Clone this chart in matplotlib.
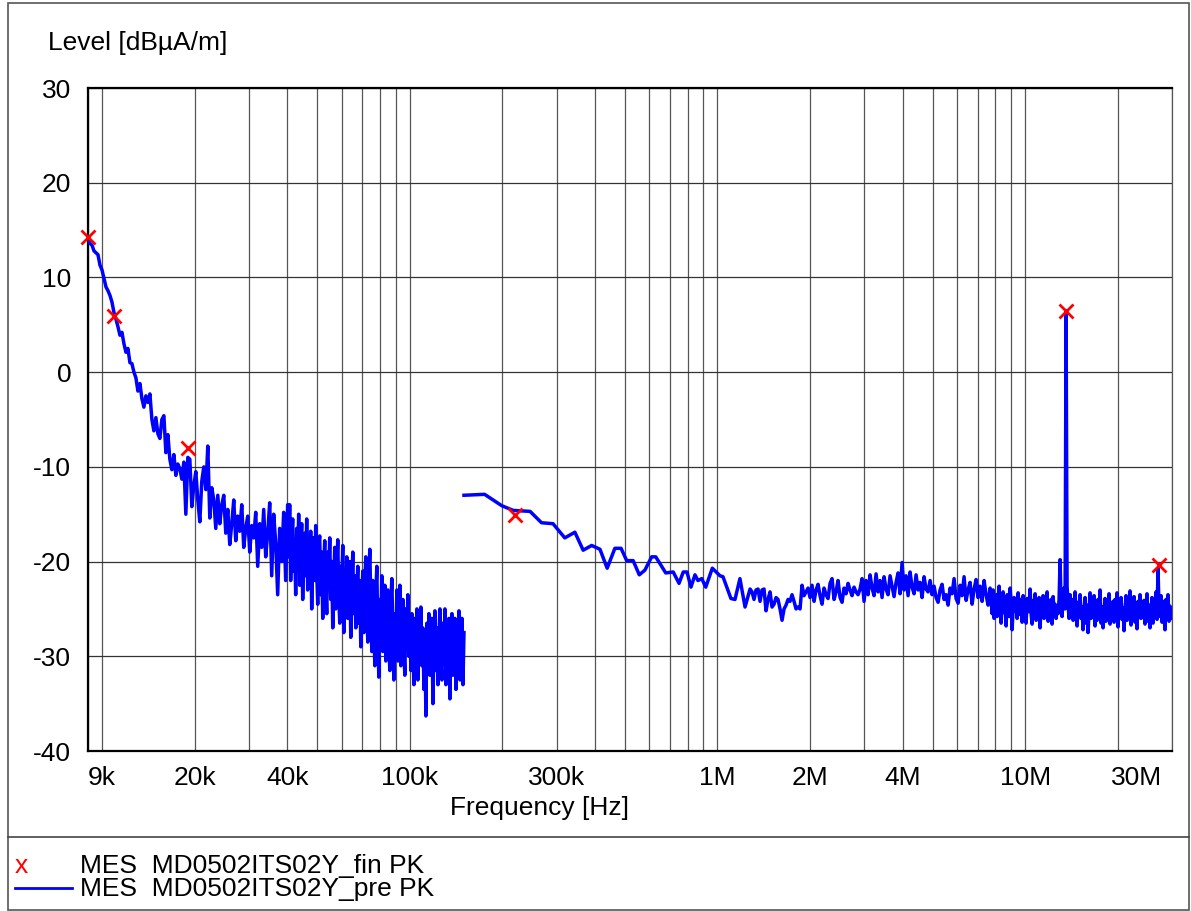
import numpy as np
import matplotlib
matplotlib.use('Agg')
import matplotlib.pyplot as plt
from matplotlib.ticker import FixedLocator, NullFormatter
from matplotlib.transforms import ScaledTranslation
from matplotlib.lines import Line2D
from matplotlib.patches import Rectangle

plt.rcParams['font.family'] = ['Liberation Sans', 'DejaVu Sans']

# ---------------- data ----------------
# pre-scan PK trace, 9 kHz .. 40.1 kHz (dBuA/m), evenly spaced in log-frequency
seg1a_f_start, seg1a_f_stop = 9e3, 40.1e3
seg1a_levels = [
    14.1, 13.6, 13.4, 12.8, 12.6, 12.4, 11.3, 10.8, 9.9, 9.0,
    8.6, 8.1, 7.4, 6.3, 5.6, 4.8, 3.9, 4.2, 3.0, 2.1,
    2.5, 1.0, 0.9, 0.0, -0.6, -2.0, -1.2, -2.8, -3.7, -2.5,
    -3.2, -2.3, -5.0, -6.2, -4.8, -6.5, -7.0, -5.0, -4.6, -8.5,
    -6.6, -9.2, -10.3, -8.7, -10.9, -9.7, -10.2, -11.3, -9.5, -15.0,
    -9.0, -9.2, -14.2, -12.0, -10.5, -13.5, -15.8, -11.5, -10.0, -12.4,
    -7.8, -15.4, -12.2, -13.5, -16.5, -13.0, -16.0, -14.0, -13.0, -17.0,
    -14.5, -18.2, -16.0, -13.5, -17.8, -15.2, -16.8, -14.0, -18.5, -16.5,
    -15.2, -19.0, -16.2, -17.5, -14.8, -20.5, -16.0, -18.5, -14.5, -19.5,
    -17.0, -13.8, -21.5, -15.0, -18.0, -23.5, -16.5, -20.0, -14.8, -22.0,
    -14.0,
]
# pre-scan PK trace, 40.4 kHz .. 150 kHz, evenly spaced in log-frequency
seg1b_f_start, seg1b_f_stop = 40.4e3, 150e3
seg1b_levels = [
    -19.5, -14.0, -22.0, -17.5, -15.5, -21.0, -18.0, -23.5, -16.5, -20.0,
    -15.0, -22.5, -18.5, -16.0, -24.0, -19.0, -17.0, -21.5, -15.5, -23.0,
    -18.0, -20.5, -16.8, -25.0, -19.5, -17.5, -22.0, -16.2, -21.0, -24.5,
    -18.0, -17.3,
    -23.5, -19.0, -26.0, -20.5, -17.8, -22.5, -25.5, -19.0, -21.5, -17.5,
    -24.0, -20.0, -27.0, -22.0, -18.5, -25.0, -21.0, -17.7, -23.5, -26.5,
    -20.5, -22.5, -18.3, -27.5, -21.0, -24.0, -19.5, -26.0, -22.5, -20.0,
    -28.0, -23.0, -19.0, -25.5, -21.5, -27.0, -23.5, -20.5, -26.5, -22.0,
    -29.0, -24.0, -21.0, -27.5, -22.5, -19.5, -25.0, -28.5, -21.5, -18.7,
    -24.5, -29.5, -22.0, -26.0, -31.0, -23.5, -20.5, -28.0, -32.2, -24.0,
    -27.0, -21.5, -29.5, -25.0, -22.5, -30.5, -26.5, -23.0, -28.5, -31.5,
    -24.5, -21.8, -27.5, -32.5, -25.5, -29.0, -23.0, -30.5, -26.0, -22.5,
    -31.0, -27.0, -24.0, -29.5, -32.0, -25.0, -28.0, -23.5, -30.0, -26.5,
    -31.5, -25.5, -28.5, -33.0, -26.0, -30.0, -25.0, -32.5, -27.5, -29.5,
    -24.8, -31.0, -27.0, -33.5, -28.0, -36.3, -26.5, -30.5, -25.5, -32.0,
    -28.5, -26.0, -35.0, -29.0, -25.2, -31.5, -27.0, -33.0, -28.0, -25.0,
    -30.5, -32.5, -26.5, -29.5, -25.0, -33.0, -27.5, -31.0, -26.0, -34.5,
    -28.5, -25.5, -32.0, -29.0, -26.0, -33.5, -27.0, -30.5, -25.2, -32.5,
    -28.0, -26.0, -33.0, -27.5,
]

# pre-scan PK trace, 150 kHz .. 1.28 MHz (explicit points)
seg2_freqs_khz = [
    150, 175, 199, 217, 246, 268, 292, 319, 344, 366,
    390, 415, 438, 464, 486, 507, 532, 557, 581, 611,
    630, 679, 718, 750, 774, 796, 820, 845, 864, 889,
    916, 962, 1019, 1042, 1106, 1140, 1183, 1229, 1276,
]
seg2_levels = [
    -13.0, -12.9, -14.1, -14.6, -14.7, -15.9, -16.0, -17.5, -16.9, -18.8,
    -18.3, -18.7, -20.7, -18.6, -18.6, -19.9, -19.9, -21.4, -20.9, -19.5,
    -19.5, -21.2, -21.1, -22.3, -21.1, -21.1, -22.7, -21.4, -22.0, -21.8,
    -22.7, -20.7, -21.5, -21.6, -23.9, -24.0, -21.8, -24.8, -22.9,
]

# pre-scan PK trace, 1.295 MHz .. 7.69 MHz, evenly spaced in log-frequency
seg3a_f_start, seg3a_f_stop = 1.295e6, 7.69e6
seg3a_levels = [
    -23.2, -24.0, -23.0, -22.9, -24.2, -23.0, -22.9, -25.2, -24.0, -23.2,
    -24.8, -24.5, -23.8, -24.0, -25.0, -26.2, -25.0, -24.6, -24.0, -24.2,
    -23.5, -24.2, -25.0, -24.8, -25.0, -22.5, -23.6, -23.2, -22.8, -23.8,
    -22.5, -24.2, -23.0, -22.4, -23.6, -24.5, -22.8, -23.5, -23.9, -22.3,
    -21.8, -24.0, -23.2, -22.0, -23.8, -24.3, -22.8, -23.4, -22.3, -23.0,
    -23.6, -22.7, -23.2, -23.5, -22.9, -21.8, -24.2, -22.0, -23.5, -21.4,
    -22.8, -23.6, -21.3, -23.2, -22.0, -23.8, -21.6, -22.9, -23.5, -21.5,
    -22.6, -23.7, -22.2, -21.2, -23.4, -20.1, -23.0, -21.5, -23.6, -21.1,
    -22.7, -23.4, -21.4, -23.0, -22.2, -23.8, -21.6, -22.9, -23.2, -22.0,
    -23.5, -22.6, -23.8, -24.3, -23.0, -22.4, -24.0, -23.5, -24.6, -22.8,
    -23.4, -21.8, -23.9, -24.4, -22.5, -23.6, -21.6, -24.1, -23.0, -22.2,
    -24.5, -22.9, -21.9, -23.8, -22.6, -24.2, -22.0, -23.5, -24.6, -22.8,
]
# pre-scan PK trace, 7.75 MHz .. 30 MHz, evenly spaced in log-frequency
seg3b_f_start, seg3b_f_stop = 7.75e6, 30e6
seg3b_levels = [
    -24.0, -25.5, -23.0, -26.0, -24.2, -23.5, -25.8, -24.0, -22.6, -25.0,
    -26.5, -24.0, -23.2, -25.4, -24.6, -26.8, -23.5, -24.5, -25.8, -22.8,
    -24.2, -27.2, -25.0, -23.8, -25.2, -24.0, -26.0, -23.3, -24.8, -25.6,
    -24.0, -26.4, -23.6, -25.0, -24.2, -26.5, -23.9, -25.3, -24.6, -22.9,
    -25.5, -26.6, -24.1, -25.0, -23.4, -26.2, -24.8, -25.6, -23.8, -27.0,
    -24.5, -25.2, -23.6, -26.0, -24.4, -25.4, -23.2, -26.3, -24.7, -25.8,
    -24.0, -26.6, -23.7, -25.1, -24.5, -26.0, -24.8,
    -25.5, -24.0, -19.8, -24.5, -25.8, -23.5, -22.8, -25.0, 6.5, -22.6,
    -24.5, -26.0, -23.5, -25.2,
    -24.0, -26.2, -24.8, -23.2, -25.6, -26.8, -24.3, -25.5, -23.5, -26.0,
    -24.8, -27.2, -25.0, -23.8, -26.5, -24.6, -27.5, -25.2, -23.3, -26.0,
    -24.4, -25.8, -23.6, -26.8, -24.9, -26.2, -24.0, -25.6, -23.0, -26.5,
    -24.8, -27.0, -25.2, -23.9, -26.3, -24.5, -25.8, -23.4, -26.6, -24.7,
    -25.9, -24.2, -26.4, -24.0, -25.5, -23.3, -26.9, -24.6, -25.4, -23.8,
    -26.1, -24.9, -27.3, -25.0, -23.6, -26.2, -24.4, -25.7, -23.1, -26.7,
    -24.8, -25.3, -23.7, -26.4, -25.0, -27.1, -24.2, -25.6, -23.5, -26.0,
    -24.7, -25.9, -24.1, -26.6, -25.2, -23.4, -26.3, -24.6, -27.0, -25.1,
    -23.8, -26.5, -24.3, -25.6, -23.2, -26.1, -20.7, -24.9, -25.8, -23.6,
    -26.4, -24.2, -25.5, -27.2, -24.0, -25.9, -23.5, -26.3, -24.7, -25.4,
    -26.0,
]

# final measurement PK points
fin_freqs = [9.0e3, 10.9e3, 19.0e3, 219e3, 13.56e6, 27.12e6]
fin_levels = [14.3, 5.9, -8.0, -15.1, 6.5, -20.4]

xtick_vals = [9e3, 20e3, 40e3, 100e3, 300e3, 1e6, 2e6, 4e6, 10e6, 30e6]
xtick_labels = ['9k', '20k', '40k', '100k', '300k', '1M', '2M', '4M', '10M', '30M']
ytick_vals = [30, 20, 10, 0, -10, -20, -30, -40]

legend_labels = ['MES  MD0502ITS02Y_fin PK', 'MES  MD0502ITS02Y_pre PK']

# ---------------- figure ----------------
W, H = 1191, 911
fig = plt.figure(figsize=(W / 100, H / 100), dpi=100)
ax = fig.add_axes([88 / W, 1 - 751 / H, (1172 - 88) / W, (751 - 88) / H])

f1 = np.concatenate([np.geomspace(seg1a_f_start, seg1a_f_stop, len(seg1a_levels)),
                     np.geomspace(seg1b_f_start, seg1b_f_stop, len(seg1b_levels))])
l1 = np.concatenate([seg1a_levels, seg1b_levels])
f23 = np.concatenate([np.array(seg2_freqs_khz) * 1e3,
                      np.geomspace(seg3a_f_start, seg3a_f_stop, len(seg3a_levels)),
                      np.geomspace(seg3b_f_start, seg3b_f_stop, len(seg3b_levels))])
l23 = np.concatenate([seg2_levels, seg3a_levels, seg3b_levels])

blue = '#0000FF'
ax.plot(f1, l1, color=blue, lw=2.5, zorder=3)
ax.plot(f23, l23, color=blue, lw=2.5, zorder=3)
ax.plot(fin_freqs, fin_levels, linestyle='none', marker='x', color='#FF0000',
        markersize=10, markeredgewidth=2.0, zorder=4, clip_on=False)

ax.set_xscale('log')
ax.set_xlim(9e3, 30e6)
ax.set_ylim(-40, 30)

grid_pos = [m * d for d in (1e3, 1e4, 1e5, 1e6, 1e7) for m in range(1, 10)
            if 9e3 < m * d < 30e6]
ax.xaxis.set_major_locator(FixedLocator(xtick_vals))
ax.set_xticklabels(xtick_labels)
ax.xaxis.set_minor_locator(FixedLocator(grid_pos))
ax.xaxis.set_minor_formatter(NullFormatter())
ax.set_yticks(ytick_vals)
ax.set_yticklabels([str(v) for v in ytick_vals])

ax.grid(which='minor', axis='x', color='#555555', lw=0.9, zorder=1)
ax.grid(which='major', axis='x', color='#555555', lw=0.9, zorder=1)
ax.grid(which='major', axis='y', color='#333333', lw=0.9, zorder=1)
ax.set_axisbelow(True)

ax.tick_params(axis='both', which='both', length=0, labelsize=19, colors='black')
ax.tick_params(axis='x', pad=11)
ax.tick_params(axis='y', pad=12)

labels = ax.get_xticklabels()
labels[0].set_horizontalalignment('left')
labels[-1].set_horizontalalignment('right')
labels[-1].set_transform(labels[-1].get_transform() +
                         ScaledTranslation(-10 / 100, 0, fig.dpi_scale_trans))

for s in ('top', 'bottom', 'left'):
    ax.spines[s].set_linewidth(1.6)
    ax.spines[s].set_color('black')
ax.spines['right'].set_linewidth(0.9)
ax.spines['right'].set_color('#555555')

# axis titles
fig.text(48 / W, 1 - 43 / H, 'Level [dBµA/m]', fontsize=19, ha='left', va='center')
fig.text(539 / W, 1 - 808 / H, 'Frequency [Hz]', fontsize=19, ha='center', va='center')

# outer frame and legend separator
fig.patches.append(Rectangle((8 / W, 1 - 910 / H), (1189 - 8) / W, (910 - 3) / H,
                             transform=fig.transFigure, fill=False,
                             edgecolor='#555555', lw=1.2))
fig.lines.append(Line2D([8 / W, 1189 / W], [1 - 837 / H, 1 - 837 / H],
                        transform=fig.transFigure, color='#444444', lw=1.2))

# legend
fig.text(21 / W, 1 - 866 / H, 'x', color='#FF0000', fontsize=19, ha='center', va='center')
fig.text(80 / W, 1 - 866 / H, legend_labels[0], fontsize=19, ha='left', va='center')
fig.lines.append(Line2D([15 / W, 72 / W], [1 - 888 / H, 1 - 888 / H],
                        transform=fig.transFigure, color=blue, lw=2))
fig.text(80 / W, 1 - 889 / H, legend_labels[1], fontsize=19, ha='left', va='center')

fig.savefig('out.png', dpi=100)
